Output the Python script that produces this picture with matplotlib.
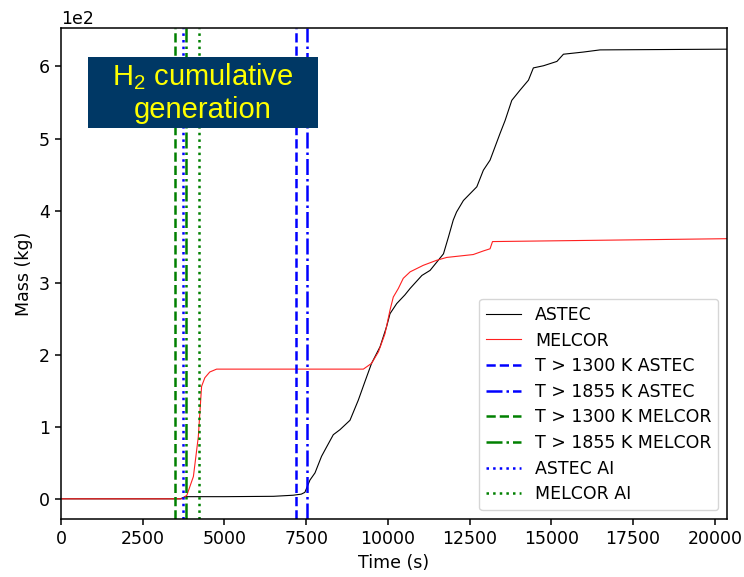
#----------Librerias----------#
import matplotlib
matplotlib.use('Agg')
import matplotlib.pyplot as plt
from matplotlib.patches import Rectangle

#----------Datos----------#
# ASTEC cumulative H2 mass (kg)
t_astec = [0, 3650, 3800, 5000, 6500, 7100, 7350, 7460, 7615, 7770, 7970, 8125, 8330,
           8535, 8840, 9095, 9300, 9500, 9760, 9960, 10065, 10270, 10520, 10680, 11040,
           11290, 11540, 11700, 11850, 12000, 12100, 12310, 12720, 12920, 13125, 13430,
           13585, 13790, 14040, 14300, 14450, 14760, 15170, 15370, 15980, 16490, 20370]
m_astec = [0, 0, 3, 3, 3.5, 5, 6.5, 9, 26, 36, 59, 72, 89,
           96, 109, 137, 163, 188, 211, 239, 257, 271, 283, 292, 310,
           317, 331, 340, 363, 387, 398, 414, 433, 456, 470, 507,
           525, 553, 567, 581, 598, 601, 607, 617, 620, 623, 624]

# MELCOR cumulative H2 mass (kg)
t_melcor = [0, 3700, 3850, 4050, 4200, 4300, 4400, 4550, 4760, 9250, 9500, 9710, 9910,
            10065, 10165, 10320, 10470, 10680, 11080, 11490, 11800, 12610, 12920, 13125,
            13200, 15000, 20370]
m_melcor = [0, 0, 5, 31, 86, 156, 168, 176, 180, 180, 188, 204, 229,
            262, 280, 292, 306, 315, 324, 331, 335, 339, 344, 347,
            357, 358, 361]

# tiempos de umbral (s)
t1300_astec = 7190
t1855_astec = 7525
t1300_melcor = 3500
t1855_melcor = 3815
tai_astec = 3730
tai_melcor = 4215

#----------Grafico----------#
plt.rcParams['font.size'] = 12.5
plt.rcParams['axes.linewidth'] = 1.1
plt.rcParams['xtick.major.size'] = 4.5
plt.rcParams['ytick.major.size'] = 4.5
plt.rcParams['xtick.major.width'] = 1.1
plt.rcParams['ytick.major.width'] = 1.1
plt.rcParams['mathtext.fontset'] = 'custom'
plt.rcParams['mathtext.rm'] = 'Liberation Sans'

fig = plt.figure(figsize=(7.44, 5.77), dpi=100)
ax = fig.add_axes([0.082, 0.1005, 0.895, 0.8505])

ax.plot(t_astec, m_astec, color='black', lw=0.8, label='ASTEC')
ax.plot(t_melcor, m_melcor, color='#ff2020', lw=0.8, label='MELCOR')
ax.axvline(t1300_astec, color='blue', ls='--', lw=1.8, label='T > 1300 K ASTEC')
ax.axvline(t1855_astec, color='blue', ls='-.', lw=1.8, label='T > 1855 K ASTEC')
ax.axvline(t1300_melcor, color='green', ls='--', lw=1.8, label='T > 1300 K MELCOR')
ax.axvline(t1855_melcor, color='green', ls='-.', lw=1.8, label='T > 1855 K MELCOR')
ax.axvline(tai_astec, color='blue', ls=':', lw=1.8, label='ASTEC AI')
ax.axvline(tai_melcor, color='green', ls=':', lw=1.8, label='MELCOR AI')

ax.set_xlim(0, 20370)
ax.set_ylim(-28, 653)
ax.ticklabel_format(axis='y', style='sci', scilimits=(0, 0))
ax.set_xlabel('Time (s)')
ax.set_ylabel('Mass (kg)')
ax.legend(loc='lower right', labelspacing=0.44)

# recuadro del titulo
fig.patches.append(Rectangle((0.1183, 0.778), 0.309, 0.123, transform=fig.transFigure,
                             facecolor='#003865', edgecolor='none', zorder=5))
fig.text(0.2728, 0.839, 'H$_2$ cumulative\ngeneration', color='#ffff00',
         fontsize=21, family='Liberation Sans', ha='center', va='center',
         linespacing=1.2, zorder=6)

fig.savefig('out.png', dpi=100)
